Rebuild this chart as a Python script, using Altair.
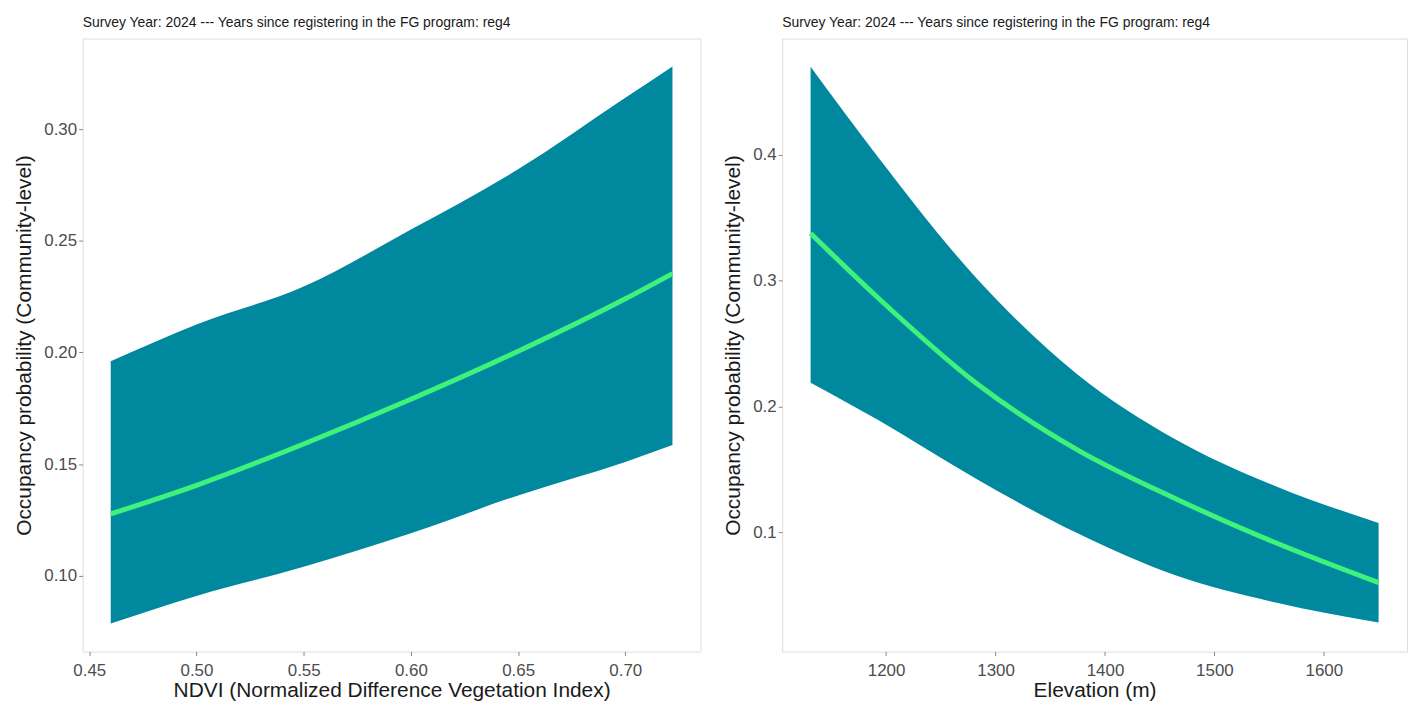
import altair as alt
import pandas as pd

# ---- Left panel: NDVI ----
ndvi = [0.46, 0.50, 0.55, 0.60, 0.65, 0.70, 0.722]
ndvi_mean = [0.1277, 0.1405, 0.159, 0.179, 0.2005, 0.224, 0.2353]
ndvi_lower = [0.0786, 0.091, 0.104, 0.119, 0.136, 0.151, 0.1585]
ndvi_upper = [0.196, 0.2125, 0.2295, 0.255, 0.282, 0.314, 0.328]

# ---- Right panel: Elevation ----
elev = [1131, 1192, 1283, 1374, 1465, 1556, 1650]
elev_mean = [0.3376, 0.2868, 0.218, 0.1658, 0.1263, 0.0915, 0.0598]
elev_lower = [0.2188, 0.1895, 0.142, 0.0994, 0.0654, 0.044, 0.028]
elev_upper = [0.47, 0.399, 0.3015, 0.226, 0.1735, 0.1365, 0.1073]

ndvi_ticks = [0.45, 0.50, 0.55, 0.60, 0.65, 0.70]
ndvi_prob_ticks = [0.10, 0.15, 0.20, 0.25, 0.30]
elev_ticks = [1200, 1300, 1400, 1500, 1600]
elev_prob_ticks = [0.1, 0.2, 0.3, 0.4]

title_text = "Survey Year: 2024 --- Years since registering in the FG program: reg4"
y_title = "Occupancy probability (Community-level)"

BAND = "#00889F"
LINE = "#3EF27B"
FONT = "Liberation Sans"

df_l = pd.DataFrame({"x": ndvi, "mean": ndvi_mean, "lo": ndvi_lower, "hi": ndvi_upper})
df_r = pd.DataFrame({"x": elev, "mean": elev_mean, "lo": elev_lower, "hi": elev_upper})


def axis(values, fmt, title, label_pad, title_pad):
    return alt.Axis(
        values=values, format=fmt, title=title, grid=False, domain=False,
        ticks=True, tickSize=4, tickColor="#888888", tickWidth=1,
        labelFont=FONT, labelFontSize=17, labelColor="#4d4d4d", labelPadding=label_pad,
        titleFont=FONT, titleFontSize=21, titleColor="#1a1a1a", titleFontWeight="normal",
        titlePadding=title_pad,
    )


def panel(df, xdom, ydom, xticks, xfmt, xtitle, yticks, yfmt, w, h):
    xs = alt.Scale(domain=xdom, nice=False, zero=False)
    ys = alt.Scale(domain=ydom, nice=False, zero=False)
    base = alt.Chart(df)
    band = base.mark_area(color=BAND, opacity=1, interpolate="monotone").encode(
        x=alt.X("x:Q", scale=xs, axis=axis(xticks, xfmt, xtitle, 7, 1)),
        y=alt.Y("lo:Q", scale=ys, axis=axis(yticks, yfmt, y_title, 2, 9)),
        y2="hi:Q",
    )
    line = base.mark_line(color=LINE, strokeWidth=5, interpolate="monotone").encode(
        x="x:Q", y="mean:Q"
    )
    return alt.layer(band, line).properties(
        width=w, height=h,
        title=alt.TitleParams(title_text, anchor="start", font=FONT, fontSize=14,
                              fontWeight="normal", color="#1a1a1a", offset=9, frame="group"),
    )


left = panel(df_l, [0.4469, 0.7351], [0.0661, 0.3405], ndvi_ticks, ".2f",
             "NDVI (Normalized Difference Vegetation Index)", ndvi_prob_ticks, ".2f", 621, 616)
right = panel(df_r, [1105, 1676], [0.005, 0.4925], elev_ticks, "d",
              "Elevation (m)", elev_prob_ticks, ".1f", 628, 616)

chart = alt.hconcat(left, right, spacing=20).configure_view(
    stroke="#8c8c8c", strokeWidth=1
).configure(background="white").properties(
    padding={"left": 5, "top": 5, "right": 5, "bottom": 0}
)

chart.save("out.html", embed_options={"renderer": "svg", "actions": False})
